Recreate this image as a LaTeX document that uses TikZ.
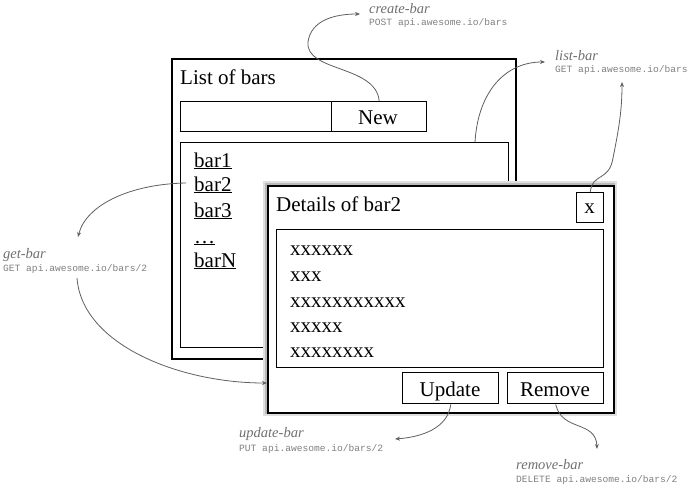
\documentclass[tikz,border=0pt]{standalone}
\usepackage{fontspec}
\setmainfont{Liberation Serif}
\newfontfamily\apifont{Liberation Mono}
\usetikzlibrary{arrows.meta}
\definecolor{anncol}{HTML}{707070}
\definecolor{apicol}{HTML}{808080}
\definecolor{arrcol}{HTML}{606060}
\tikzset{
  ui/.style={font=\fontsize{21}{24}\selectfont, inner sep=0pt},
  frame/.style={draw=black, line width=1.8pt},
  ctrl/.style={draw=black, line width=1.4pt, inner sep=0pt, anchor=north west},
  lab/.style={font=\fontsize{14.5}{16}\selectfont\itshape, text=anncol, inner sep=0pt, anchor=base west},
  api/.style={font=\apifont\fontsize{9.6}{11}\selectfont, text=apicol, inner sep=0pt, anchor=base west},
  call/.style={draw=arrcol, line width=0.8pt, -{Stealth[length=5pt,width=4pt]}},
}
\begin{document}
\begin{tikzpicture}[x=1pt,y=-1pt]
\useasboundingbox[fill=white] (0,0) rectangle (690,487);

% List window
\node[frame, inner sep=0pt, anchor=north west, minimum width=344pt, minimum height=300pt] (lwin) at (171,58) {};
\node[ui, anchor=base west] (ltitle) at (180,84) {List of bars};
\node[ctrl, minimum width=151pt, minimum height=30pt] (search) at (180,101) {};
\node[ctrl, minimum width=95pt, minimum height=30pt] (newb) at (331,101) {};
\node[ui, anchor=base] (newt) at (378,124) {New};
\node[ctrl, minimum width=328pt, minimum height=205pt] (listbox) at (180,142) {};
\node[ui, anchor=base west] (b1) at (194,167) {\underline{bar1}};
\node[ui, anchor=base west] (b2) at (194,191) {\underline{bar2}};
\node[ui, anchor=base west] (b3) at (194,217) {\underline{bar3}};
\node[ui, anchor=base west] (bd) at (194,243) {\underline{\ldots}};
\node[ui, anchor=base west] (bn) at (194,267) {\underline{barN}};

% Details window
\draw[gray!25, line width=8pt] (267,185) rectangle (613,412);
\draw[gray!55, line width=4pt] (267,185) rectangle (613,412);
\fill[white] (267,185) rectangle (613,412);
\node[frame, minimum width=346pt, minimum height=227pt, anchor=north west, inner sep=0pt] (det) at (267,185) {};
\node[ui, anchor=base west] (dtitle) at (276,211) {Details of bar2};
\node[ctrl, minimum width=27pt, minimum height=30pt] (xb) at (576,192) {};
\node[ui, anchor=base] (xt) at (589.5,213) {x};
\node[ctrl, minimum width=327pt, minimum height=138pt] (cont) at (276,229) {};
\node[ui, anchor=base west] (l1) at (290,255) {xxxxxx};
\node[ui, anchor=base west] (l2) at (290,281) {xxx};
\node[ui, anchor=base west] (l3) at (290,307) {xxxxxxxxxxx};
\node[ui, anchor=base west] (l4) at (290,332) {xxxxx};
\node[ui, anchor=base west] (l5) at (290,357) {xxxxxxxx};
\node[ctrl, minimum width=96pt, minimum height=31pt] (upd) at (402,372) {};
\node[ui, anchor=base] (updt) at (450,396) {Update};
\node[ctrl, minimum width=96pt, minimum height=31pt] (rem) at (507,372) {};
\node[ui, anchor=base] (remt) at (555,396) {Remove};

% Annotations
\node[lab] (cb) at (369,14) {create-bar};
\node[api] (cbapi) at (369,26) {POST api.awesome.io/bars};
\node[lab] (lb) at (555,60) {list-bar};
\node[api] (lbapi) at (555,73) {GET api.awesome.io/bars};
\node[lab] (gb) at (3,258) {get-bar};
\node[api] (gbapi) at (3,271) {GET api.awesome.io/bars/2};
\node[lab] (ub) at (239,437) {update-bar};
\node[api] (ubapi) at (239,451) {PUT api.awesome.io/bars/2};
\node[lab] (rb) at (516,469) {remove-bar};
\node[api] (rbapi) at (516,482) {DELETE api.awesome.io/bars/2};

\coordinate (cbend) at (360,14);
\coordinate (lbend) at (545,62);
\coordinate (xend) at (622,82);
\coordinate (gbend) at (78,237);
\coordinate (gbstart) at (77,278);
\coordinate (b2start) at (186,183);
\coordinate (ubend) at (395,439);
\coordinate (rbend) at (597,449);

% Connectors
\draw[call] (newb.north) .. controls (376,65) and (305,72) .. (308,42) .. controls (311,20) and (335,14) .. (cbend);
\draw[call] (listbox.north -| 475,0) .. controls (478,92) and (505,62) .. (lbend);
\draw[call] (xb.north) .. controls (593,172) and (609,182) .. (613,158) .. controls (619,128) and (622,110) .. (xend);
\draw[call] (b2start) .. controls (130,184) and (86,205) .. (gbend);
\draw[call] (gbstart) .. controls (82,345) and (180,383) .. (det.west |- 0,383);
\draw[call] (upd.south) .. controls (448,428) and (422,437) .. (ubend);
\draw[call] (rem.south) .. controls (562,432) and (596,420) .. (rbend);
\end{tikzpicture}
\end{document}
